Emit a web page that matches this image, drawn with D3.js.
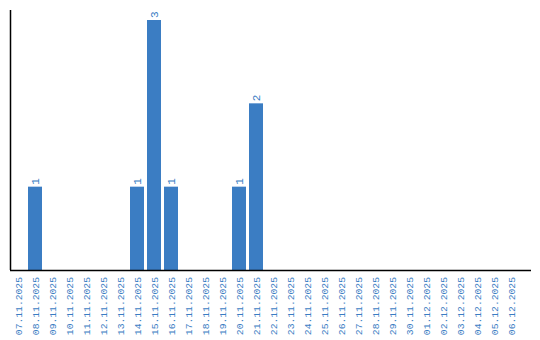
<!DOCTYPE html>
<html>
<head>
<meta charset="utf-8">
<script src="https://cdn.jsdelivr.net/npm/d3@7"></script>
<style>
  body { margin: 0; background: #fff; }
  svg { display: block; }
</style>
</head>
<body>
<div id="chart"></div>
<script>
const dates = [
  "07.11.2025", "08.11.2025", "09.11.2025", "10.11.2025", "11.11.2025",
  "12.11.2025", "13.11.2025", "14.11.2025", "15.11.2025", "16.11.2025",
  "17.11.2025", "18.11.2025", "19.11.2025", "20.11.2025", "21.11.2025",
  "22.11.2025", "23.11.2025", "24.11.2025", "25.11.2025", "26.11.2025",
  "27.11.2025", "28.11.2025", "29.11.2025", "30.11.2025", "01.12.2025",
  "02.12.2025", "03.12.2025", "04.12.2025", "05.12.2025", "06.12.2025"
]
const counts = [0, 1, 0, 0, 0, 0, 0, 1, 3, 1, 0, 0, 0, 1, 2, 0, 0, 0, 0, 0, 0, 0, 0, 0, 0, 0, 0, 0, 0, 0]

const width = 540, height = 340
const color = "#3b7dc3"
const data = dates.map((d, i) => ({ date: d, value: counts[i] }))

const svg = d3.select("#chart").append("svg")
  .attr("width", width)
  .attr("height", height)

// 17px step, 14px bars
const x = d3.scaleBand()
  .domain(dates)
  .range([9.5, 519.5])
  .paddingInner(3 / 17)
  .paddingOuter(3 / 34)

const y = d3.scaleLinear()
  .domain([0, d3.max(counts) * 1.04])
  .range([270, 10])

svg.append("g")
  .selectAll("rect")
  .data(data.filter(d => d.value > 0))
  .join("rect")
  .attr("x", d => x(d.date))
  .attr("y", d => y(d.value))
  .attr("width", x.bandwidth())
  .attr("height", d => y(0) - y(d.value))
  .attr("fill", color)

// value labels, rotated
svg.append("g")
  .attr("font-family", "'Liberation Mono', monospace")
  .attr("font-size", 11)
  .attr("fill", color)
  .selectAll("text")
  .data(data.filter(d => d.value > 0))
  .join("text")
  .attr("transform", d => `translate(${x(d.date) + x.bandwidth() / 2 + 4},${y(d.value) - 2}) rotate(-90)`)
  .text(d => d.value)

// axes lines
svg.append("line")
  .attr("x1", 10.5).attr("x2", 10.5)
  .attr("y1", 10).attr("y2", 270)
  .attr("stroke", "#000")
  .attr("stroke-width", 1.5)

svg.append("line")
  .attr("x1", 10).attr("x2", 531)
  .attr("y1", 270.5).attr("y2", 270.5)
  .attr("stroke", "#000")
  .attr("stroke-width", 1.5)

// date labels
svg.append("g")
  .attr("font-family", "'Liberation Mono', monospace")
  .attr("font-size", 9.7)
  .attr("fill", color)
  .attr("text-anchor", "end")
  .selectAll("text")
  .data(dates)
  .join("text")
  .attr("transform", d => `translate(${x(d) + x.bandwidth() / 2 + 3.5},277) rotate(-90)`)
  .text(d => d)
</script>
</body>
</html>
